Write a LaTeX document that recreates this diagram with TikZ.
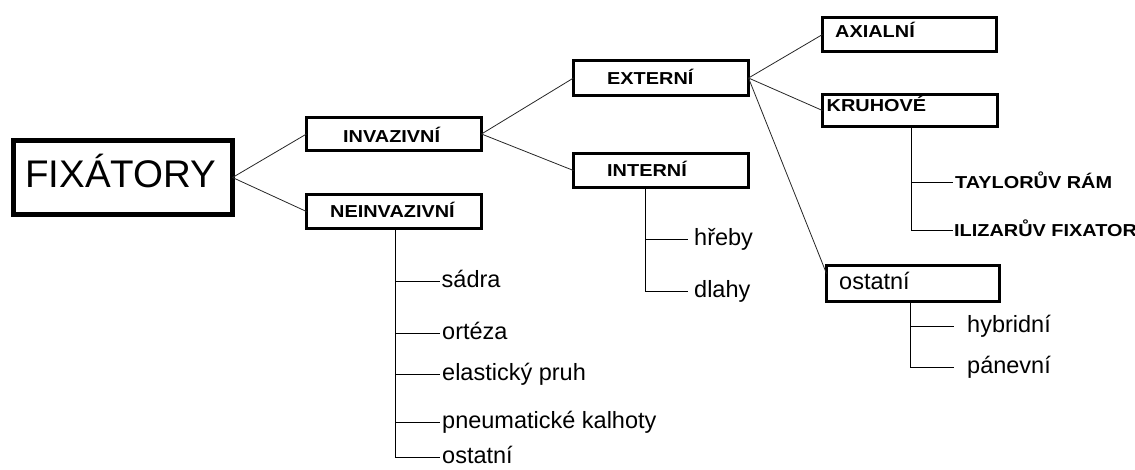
\documentclass[tikz,border=0pt]{standalone}
\usepackage{fontspec}
\setmainfont{Liberation Sans}
\newfontfamily\lblfont[FakeStretch=1.15]{Liberation Sans Bold}
\begin{document}
\begin{tikzpicture}[x=1pt,y=-1pt,
  box/.style={draw, line width=3pt, rectangle, inner sep=0pt, outer sep=0pt},
  bigbox/.style={box, line width=5pt},
  lbl/.style={anchor=base west, inner sep=0pt, font=\lblfont\fontsize{17.3}{18}\selectfont},
  leaf/.style={anchor=west, inner ysep=0pt, inner xsep=2pt, text height=12.2pt, text depth=0pt, font=\fontsize{23.5}{24}\selectfont},
  capleaf/.style={anchor=west, inner ysep=0pt, inner xsep=2pt, text height=12.4pt, text depth=0pt, font=\lblfont\fontsize{17.3}{18}\selectfont},
  conn/.style={line width=0.8pt, black!85},
  branch/.style={line width=0.9pt}
]
\useasboundingbox (0,0) rectangle (1135,469);

% boxes
\node[bigbox, minimum width=219pt, minimum height=74pt] (fix) at (123,177.5) {};
\node[box, minimum width=175pt, minimum height=33pt] (inv) at (394,134) {};
\node[box, minimum width=175pt, minimum height=34pt] (neinv) at (394,211.5) {};
\node[box, minimum width=175pt, minimum height=35pt] (ext) at (661,78) {};
\node[box, minimum width=175pt, minimum height=34pt] (int) at (661,170.5) {};
\node[box, minimum width=174pt, minimum height=34pt] (ax) at (909.5,34.5) {};
\node[box, minimum width=175pt, minimum height=32pt] (kru) at (910,110.5) {};
\node[box, minimum width=173pt, minimum height=36pt] (ost) at (913,283.5) {};

% box labels
\node[anchor=base west, inner sep=0pt, font=\fontsize{38.5}{39}\selectfont] (fixl) at (25,187.5) {FIXÁTORY};
\node[lbl] (invl) at (343,142) {INVAZIVNÍ};
\node[lbl] (neinvl) at (330,217) {NEINVAZIVNÍ};
\node[lbl] (extl) at (607,84) {EXTERNÍ};
\node[lbl] (intl) at (607,176.7) {INTERNÍ};
\node[lbl] (axl) at (835,37.3) {AXIALNÍ};
\node[lbl] (krul) at (826.5,111.7) {KRUHOVÉ};
\node[anchor=base west, inner sep=0pt, font=\fontsize{23.5}{24}\selectfont] (ostl) at (839,289) {ostatní};

% connectors between boxes
\draw[conn] (fix.east) -- (inv.west);
\draw[conn] (fix.east) -- (neinv.west);
\draw[conn] (inv.east) -- (ext.west);
\draw[conn] (inv.east) -- (int.west);
\draw[conn] (ext.east) -- (ax.west);
\draw[conn] (ext.east) -- (kru.west);
\draw[conn] (ext.east) -- ([yshift=10pt]ost.west);

% NEINVAZIVNI subtree
\node[leaf, inner xsep=1.5pt] (n1) at (440,281) {sádra};
\node[leaf] (n2) at (440,333) {ortéza};
\node[leaf] (n3) at (440,374) {elastický pruh};
\node[leaf] (n4) at (440,422) {pneumatické kalhoty};
\node[leaf] (n5) at (440,457) {ostatní};
\coordinate (nt) at (395,0);
\draw[branch] (nt |- neinv.south) -- (nt |- n5.west) -- (n5.west);
\foreach \n in {n1,n2,n3,n4} \draw[branch] (nt |- \n.west) -- (\n.west);

% INTERNI subtree
\node[leaf, inner xsep=6pt] (i1) at (688,239) {hřeby};
\node[leaf, inner xsep=6pt] (i2) at (688,291) {dlahy};
\coordinate (it) at (645,0);
\draw[branch] (it |- int.south) -- (it |- i2.west) -- (i2.west);
\draw[branch] (it |- i1.west) -- (i1.west);

% KRUHOVE subtree
\node[capleaf] (k1) at (953,182) {TAYLORŮV RÁM};
\node[capleaf, inner xsep=1pt] (k2) at (953,230) {ILIZARŮV FIXATOR};
\coordinate (kt) at (911,0);
\draw[branch] (kt |- kru.south) -- (kt |- k2.west) -- (k2.west);
\draw[branch] (kt |- k1.west) -- (k1.west);

% ostatni subtree
\node[leaf, inner xsep=0pt] (o1) at (967,326) {hybridní};
\node[leaf, inner xsep=0pt] (o2) at (967,367) {pánevní};
\coordinate (ot) at (910,0);
\draw[branch, shorten >=13pt] (ot |- ost.south) -- (ot |- o2.west) -- (o2.west);
\draw[branch, shorten >=13pt] (ot |- o1.west) -- (o1.west);
\end{tikzpicture}
\end{document}
